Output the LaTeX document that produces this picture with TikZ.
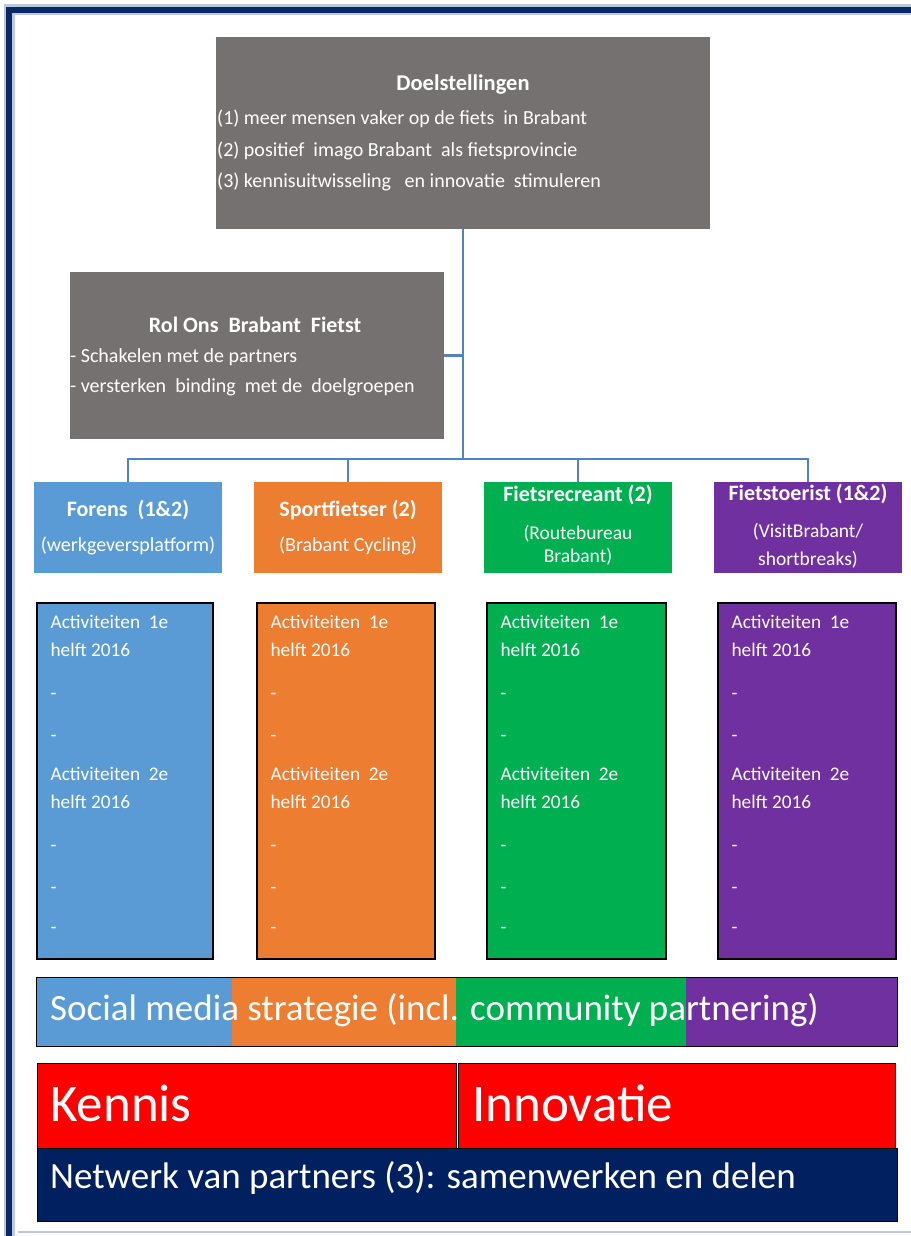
\documentclass[tikz,border=0pt]{standalone}
\usepackage{fontspec}
\setmainfont{Carlito}
\definecolor{greyc}{RGB}{118,113,113}
\definecolor{linec}{RGB}{84,130,190}
\definecolor{cblue}{RGB}{91,155,213}
\definecolor{corange}{RGB}{237,125,49}
\definecolor{cgreen}{RGB}{0,176,80}
\definecolor{cpurple}{RGB}{112,48,160}
\definecolor{cred}{RGB}{255,0,0}
\definecolor{cnavy}{RGB}{0,32,96}
\definecolor{frame}{RGB}{10,40,100}
\definecolor{frameshade}{RGB}{190,200,220}
\begin{document}
\begin{tikzpicture}[x=1pt,y=-1pt,
  gbox/.style={fill=greyc, draw=none, inner sep=0pt},
  hdrbox/.style={draw=none, inner sep=0pt, minimum width=188pt, minimum height=91pt},
  actbox/.style={draw=black, line width=1.2pt, inner sep=0pt, minimum height=356pt},
  conn/.style={draw=linec, line width=2.6pt},
  wt/.style={text=white, inner sep=0pt},
  acttext/.style={wt, anchor=north west, align=left, font=\fontsize{19.3}{28}\selectfont},
  hdrtext/.style={wt, align=center, font=\fontsize{20}{35}\selectfont},
  bar/.style={draw=none, inner sep=0pt},
  bigtext/.style={wt, anchor=west, font=\fontsize{37}{42}\selectfont}
]
\useasboundingbox (0,0) rectangle (910,1236);
\fill[white] (0,0) rectangle (910,1236);
% frame
\draw[frameshade, line width=11pt] (9,1250) -- (9,10) -- (925,10);
\draw[frame, line width=6pt] (9,1250) -- (9,10) -- (925,10);
\draw[frameshade, line width=2pt] (18,1232) -- (925,1232);

% top boxes
\node[gbox, minimum width=494pt, minimum height=192pt] (doel) at (463,133) {};
\node[wt, font=\fontsize{22.5}{24}\selectfont\bfseries] (doelt) at (463,85) {Doelstellingen};
\node[wt, anchor=north west, align=left, font=\fontsize{20}{31.5}\selectfont] (doell) at (217,110)
  {(1) meer mensen vaker op de fiets \ in Brabant\\
   (2) positief \ imago Brabant \ als fietsprovincie\\
   (3) kennisuitwisseling \ \ en innovatie \ stimuleren};

\node[gbox, minimum width=374pt, minimum height=167pt] (rol) at (257,355.5) {};
\node[wt, font=\fontsize{22}{24}\selectfont\bfseries] (rolt) at (255,325) {Rol Ons \ Brabant \ Fietst};
\node[wt, anchor=north west, align=left, font=\fontsize{20}{30}\selectfont] (roll) at (70,348)
  {- Schakelen met de partners\\
   - versterken \ binding \ met de \ doelgroepen};

% group headers
\node[hdrbox, fill=cblue] (forens) at (128,527.5) {};
\node[hdrbox, fill=corange] (sport) at (348,527.5) {};
\node[hdrbox, fill=cgreen] (recr) at (578,527.5) {};
\node[hdrbox, fill=cpurple] (toer) at (808,527.5) {};

\node[hdrtext] (forenst) at (forens) {\textbf{\fontsize{22}{35}\selectfont Forens \ (1\&2)}\\(werkgeversplatform)};
\node[hdrtext] (sportt) at (sport) {\textbf{\fontsize{22}{35}\selectfont Sportfietser (2)}\\(Brabant Cycling)};
\node[wt, align=center, font=\fontsize{19.5}{23}\selectfont] (recrt) at (578,525)
  {\textbf{\fontsize{22}{23}\selectfont Fietsrecreant (2)}\\[15pt](Routebureau\\Brabant)};
\node[wt, align=center, font=\fontsize{19.5}{28}\selectfont] (toert) at (808,526)
  {\textbf{\fontsize{22}{28}\selectfont Fietstoerist (1\&2)}\\[9pt](VisitBrabant/\\shortbreaks)};

% connectors
\coordinate (bus) at (463,459);
\draw[conn] (doel.south) -- (bus);
\draw[conn] (rol.east) -- (rol.east -| doel.south);
\draw[conn] (bus) -| (forens.north);
\draw[conn] (bus) -| (sport.north);
\draw[conn] (bus) -| (recr.north);
\draw[conn] (bus) -| (toer.north);

% activity boxes
\node[actbox, fill=cblue, minimum width=176pt] (actb) at (125,781) {};
\node[actbox, fill=corange, minimum width=178pt] (acto) at (346,781) {};
\node[actbox, fill=cgreen, minimum width=179pt] (actg) at (576.5,781) {};
\node[actbox, fill=cpurple, minimum width=178pt] (actp) at (807,781) {};

\foreach \b in {actb,acto,actg,actp}{
  \node[acttext] (\b t) at ([xshift=14pt,yshift=-13pt]\b.north west)
   {Activiteiten \ 1e\\helft 2016\\[15pt]-\\[14pt]-\\[11pt]Activiteiten \ 2e\\helft 2016\\[15pt]-\\[14pt]-\\[12pt]-};
}

% social media bar
\node[bar, fill=cblue, minimum width=195pt, minimum height=68pt] (smb) at (134.5,1012) {};
\node[bar, fill=corange, minimum width=224pt, minimum height=68pt] (smo) at (344,1012) {};
\node[bar, fill=cgreen, minimum width=230pt, minimum height=68pt] (smg) at (571,1012) {};
\node[bar, fill=cpurple, minimum width=211pt, minimum height=68pt] (smp) at (791.5,1012) {};
\draw[black, line width=1.2pt] (smb.north west) rectangle (smp.south east);
\node[bigtext] (smt) at (50,1010) {Social media strategie (incl. community partnering)};

% kennis / innovatie
\node[bar, fill=cred, draw=black, line width=0.8pt, minimum width=419pt, minimum height=85pt] (kennis) at (246.5,1105.5) {};
\node[bar, fill=cred, draw=black, line width=0.8pt, minimum width=437pt, minimum height=85pt] (innov) at (676.5,1105.5) {};
\node[wt, anchor=west, font=\fontsize{53}{58}\selectfont] (kennist) at (50,1103) {Kennis};
\node[wt, anchor=west, font=\fontsize{53}{58}\selectfont] (innovt) at (472,1103) {Innovatie};

% netwerk
\node[bar, fill=cnavy, draw=black, line width=1pt, minimum width=860pt, minimum height=73pt] (netw) at (467,1184.5) {};
\node[bigtext] (netwt) at (50,1178) {Netwerk van partners (3): samenwerken en delen};
\end{tikzpicture}
\end{document}
